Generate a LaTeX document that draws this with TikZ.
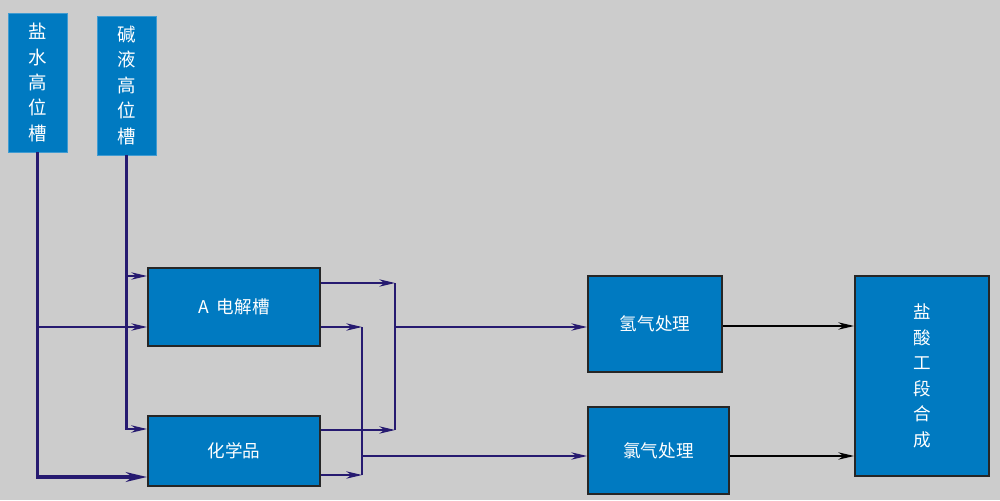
\documentclass[tikz,border=0pt]{standalone}
\usepackage{fontspec}
\setmainfont{Noto Sans CJK SC}
\usetikzlibrary{arrows.meta}
\definecolor{boxblue}{RGB}{0,122,193}
\definecolor{pipecol}{RGB}{38,26,112}
\definecolor{bggray}{RGB}{204,204,204}
\begin{document}
\begin{tikzpicture}[>={Stealth[length=9pt,width=4.2pt]},x=0.02cm,y=-0.02cm,
		tank/.style={fill=boxblue,draw=boxblue!75!white,text=white,inner sep=0pt,align=center,minimum width=1.18cm,minimum height=2.78cm,font=\fontsize{10.5}{14.5}\selectfont},
		unit/.style={fill=boxblue,draw=black!85,line width=1.1pt,text=white,inner sep=0pt,align=center,font=\fontsize{10}{14.5}\selectfont},
		pipe/.style={draw=pipecol,line width=0.9pt}]
			\fill[bggray] (0,0) rectangle (1000,500);
			\useasboundingbox (0,0) rectangle (1000,500);
			\node[tank] (brine) at (37.5,82.5) {盐\\水\\高\\位\\槽};
			\node[tank] (alkali) at (126.5,85.5) {碱\\液\\高\\位\\槽};
			\node[unit,minimum width=3.44cm,minimum height=1.56cm] (cell) at (234,307) {A\ \ 电解槽};
			\node[unit,minimum width=3.44cm,minimum height=1.40cm] (chem) at (234,451) {化学品};
			\node[unit,minimum width=2.68cm,minimum height=1.92cm] (htreat) at (655,324) {氢气处理};
			\node[unit,minimum width=2.82cm,minimum height=1.74cm] (cltreat) at (658.5,450.5) {氯气处理};
			\node[unit,minimum width=2.68cm,minimum height=4.00cm] (hcl) at (922,376) {盐\\酸\\工\\段\\合\\成};
			\coordinate (hjoin) at (395,327);
			\coordinate (cljoin) at (362,456);
			\draw[pipe,line width=2pt,-{Stealth[length=12pt,width=5.5pt]}] (brine.south) |- (chem.west |- 0,477);
			\draw[pipe,->] (brine.south |- 0,327) -- (cell.west |- 0,327);
			\draw[pipe,line width=1.3pt,->] (alkali.south) |- (chem.west |- 0,429);
			\draw[pipe,->] (alkali.south |- 0,276) -- (cell.west |- 0,276);
			\draw[pipe,->] (cell.east |- 0,283) -- (hjoin |- 0,283);
			\draw[pipe,->] (chem.east |- 0,430) -- (hjoin |- 0,430);
			\draw[pipe] (hjoin |- 0,283) -- (hjoin |- 0,430);
			\draw[pipe,->] (hjoin) -- (htreat.west |- hjoin);
			\draw[pipe,->] (cell.east |- 0,327) -- (cljoin |- 0,327);
			\draw[pipe,->] (chem.east |- 0,475) -- (cljoin |- 0,475);
			\draw[pipe] (cljoin |- 0,327) -- (cljoin |- 0,475);
			\draw[pipe,->] (cljoin) -- (cltreat.west |- cljoin);
			\draw[black,line width=0.9pt,->] (htreat.east |- 0,326) -- (hcl.west |- 0,326);
			\draw[black,line width=0.9pt,->] (cltreat.east |- 0,456) -- (hcl.west |- 0,456);
		\end{tikzpicture}
\end{document}
